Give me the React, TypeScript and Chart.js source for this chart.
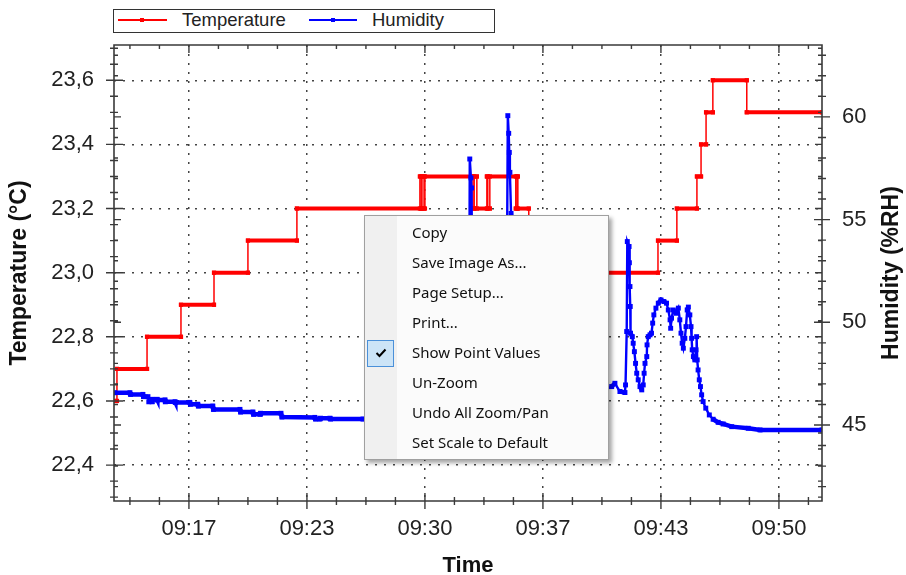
import React, { useEffect, useRef } from 'react';
import { Chart, registerables } from 'chart.js';

Chart.register(...registerables);

// ---- axis ranges (time = seconds after 09:00:00) ----
const TIME_MIN = 746;
const TIME_MAX = 3146;
const TEMP_MIN = 22.288;
const TEMP_MAX = 23.71;
const HUM_MIN = 41.3;
const HUM_MAX = 63.5;

// ---- tick values / labels ----
const timeTickValues = [1000, 1400, 1800, 2200, 2600, 3000];
const timeTickLabels = ['09:17', '09:23', '09:30', '09:37', '09:43', '09:50'];
const tempTickValues = [22.4, 22.6, 22.8, 23.0, 23.2, 23.4, 23.6];
const tempTickLabels = ['22,4', '22,6', '22,8', '23,0', '23,2', '23,4', '23,6'];
const humTickValues = [45, 50, 55, 60];
const humTickLabels = ['45', '50', '55', '60'];

// ---- titles / legend / menu text ----
const seriesNames = ['Temperature', 'Humidity'];
const axisTitles = { x: 'Time', temp: 'Temperature (°C)', hum: 'Humidity (%RH)' };
const menuItems = [
  'Copy',
  'Save Image As...',
  'Page Setup...',
  'Print...',
  'Show Point Values',
  'Un-Zoom',
  'Undo All Zoom/Pan',
  'Set Scale to Default',
];
const checkedMenuItem = 'Show Point Values';

// ---- Temperature series (°C), step corners ----
const tempTimes = [
  752, 756, 756, 858, 858, 973, 973, 1085, 1085, 1200, 1200, 1366, 1366, 1783, 1783, 1787, 1787, 1790,
  1790, 1797, 1797, 1800, 1800, 1963, 1963, 1967, 1967, 1976, 1976, 2010, 2010, 2013, 2013, 2020, 2020,
  2108, 2108, 2112, 2112, 2115, 2115, 2152, 2152, 2280, 2280, 2590, 2590, 2654, 2654, 2722, 2722, 2736,
  2736, 2753, 2753, 2776, 2776, 2891, 2891, 3146,
];
const tempValues = [
  22.6, 22.6, 22.7, 22.7, 22.8, 22.8, 22.9, 22.9, 23.0, 23.0, 23.1, 23.1, 23.2, 23.2, 23.3, 23.3, 23.2, 23.2,
  23.3, 23.3, 23.2, 23.2, 23.3, 23.3, 23.2, 23.2, 23.3, 23.3, 23.2, 23.2, 23.3, 23.3, 23.2, 23.2, 23.3,
  23.3, 23.2, 23.2, 23.3, 23.3, 23.2, 23.2, 23.1, 23.1, 23.0, 23.0, 23.1, 23.1, 23.2, 23.2, 23.3, 23.3,
  23.4, 23.4, 23.5, 23.5, 23.6, 23.6, 23.5, 23.5,
];

// ---- Humidity series (%RH) ----
const humTimes = [
  748, 800, 802, 844, 846, 861, 864, 875, 876, 892, 893, 919, 920, 953, 954, 1003, 1005, 1030, 1032, 1081,
  1083, 1173, 1175, 1217, 1219, 1241, 1243, 1312, 1315, 1427, 1429, 1444, 1446, 1478, 1480, 1590, 1715,
  1949, 1952, 1956, 1958, 1963, 2071, 2075, 2081, 2084, 2086, 2088, 2092, 2095, 2190, 2325, 2393,
  2433, 2444, 2461, 2478, 2480, 2484, 2486, 2492, 2493, 2495, 2496, 2497, 2503, 2506, 2510, 2514, 2518,
  2523, 2529, 2535, 2540, 2543, 2546, 2552, 2553, 2557, 2563, 2568, 2572, 2576, 2583, 2591, 2600, 2610,
  2619, 2625, 2631, 2633, 2636, 2642, 2651, 2659, 2664, 2668, 2672, 2676, 2681, 2685, 2689, 2693, 2698,
  2702, 2704, 2706, 2710, 2715, 2719, 2721, 2723, 2726, 2730, 2734, 2738, 2743, 2752, 2764, 2777, 2794,
  2811, 2840, 2896, 2936, 3146,
];
const humValues = [
  46.57, 46.57, 46.49, 46.49, 46.38, 46.38, 46.13, 46.13, 46.25, 46.25, 46.22, 46.22, 46.13, 46.13, 46.1,
  46.1, 46.01, 46.01, 45.92, 45.92, 45.76, 45.76, 45.63, 45.63, 45.52, 45.52, 45.57, 45.57, 45.39, 45.37,
  45.29, 45.29, 45.33, 45.33, 45.29, 45.29, 45.25, 45.3, 57.95, 57.03, 56.54, 45.4, 45.4, 45.5, 60.06,
  59.2, 58.27, 57.3, 55.3, 45.6, 45.6, 46.2, 46.6,
  46.87, 47.03, 46.63, 46.58, 46.95, 49.55, 53.93, 53.69, 52.9, 51.74, 50.77, 49.47, 49.3, 48.98, 48.57,
  48.0, 47.52, 47.2, 46.87, 46.71, 46.95, 47.52, 48.0, 48.33, 48.9, 49.3, 49.39, 49.47, 49.96, 50.36,
  50.69, 50.93, 51.09, 51.01, 50.93, 50.6, 50.12, 49.71, 50.2, 50.6, 50.44, 50.69, 50.12, 49.47, 48.98,
  48.74, 49.22, 49.79, 50.6, 50.74, 50.36, 49.79, 49.22, 48.66, 48.33, 48.17, 48.66, 49.3, 48.17, 47.68,
  47.2, 46.87, 46.47, 46.14, 45.82, 45.49, 45.28, 45.13, 45.05, 44.92, 44.84, 44.76, 44.76,
];

const TEMP_COLOR = '#ff0000';
const HUM_COLOR = '#0000ff';
const AXIS_COLOR = '#3a3a3a';
const FONT = '"Liberation Sans", Arial, sans-serif';

const framePlugin = {
  id: 'frameTicks',
  afterDatasetsDraw(chart: any) {
    const { ctx, chartArea: a, scales } = chart;
    const xs = scales.x;
    const yl = scales.y;
    const yr = scales.y1;
    ctx.save();
    ctx.strokeStyle = AXIS_COLOR;
    ctx.lineWidth = 1.6;
    ctx.beginPath();
    ctx.rect(a.left, a.top, a.right - a.left, a.bottom - a.top);
    ctx.stroke();
    ctx.lineWidth = 1.4;
    ctx.beginPath();
    const seg = (x1: number, y1: number, x2: number, y2: number) => {
      ctx.moveTo(x1, y1);
      ctx.lineTo(x2, y2);
    };
    // time axis: minor every 100 s, major at tick values
    for (let v = 800; v < TIME_MAX; v += 100) {
      const px = xs.getPixelForValue(v);
      const major = timeTickValues.includes(v);
      const len = major ? 8 : 4;
      seg(px, a.bottom - len, px, a.bottom + len);
      seg(px, a.top, px, a.top + len);
    }
    // temperature axis: minor every 0.05
    for (let k = 0; k <= 28; k++) {
      const v = 22.3 + k * 0.05;
      const py = yl.getPixelForValue(v);
      const major = k % 4 === 2;
      seg(a.left - (major ? 8 : 4), py, a.left + (major ? 9 : 4), py);
      seg(a.right - (major ? 7 : 4), py, a.right, py);
    }
    // humidity axis: minor every 1
    for (let v = 42; v <= 63; v++) {
      const py = yr.getPixelForValue(v);
      const major = v % 5 === 0;
      seg(a.right - (major ? 8 : 4), py, a.right + (major ? 8 : 4), py);
      seg(a.left, py, a.left + (major ? 7 : 4), py);
    }
    ctx.stroke();
    // right axis title, reading bottom-to-top
    ctx.translate(892, (a.top + a.bottom) / 2);
    ctx.rotate(-Math.PI / 2);
    ctx.font = `bold 23px ${FONT}`;
    ctx.fillStyle = '#111';
    ctx.textAlign = 'center';
    ctx.textBaseline = 'middle';
    ctx.fillText(axisTitles.hum, 0, 0);
    ctx.restore();
  },
};

export default function App() {
  const ref = useRef<HTMLCanvasElement>(null);

  useEffect(() => {
    Chart.defaults.font.family = FONT;
    const tempData = tempTimes.map((t, i) => ({ x: t, y: tempValues[i] }));
    const humData = humTimes.map((t, i) => ({ x: t, y: humValues[i] }));
    const tickFont = { size: 22 };
    const chart = new Chart(ref.current as HTMLCanvasElement, {
      type: 'line',
      data: {
        datasets: [
          {
            label: seriesNames[1],
            data: humData,
            yAxisID: 'y1',
            borderColor: HUM_COLOR,
            backgroundColor: HUM_COLOR,
            borderWidth: 2.4,
            pointStyle: 'rect',
            pointRadius: 3.5,
            pointBorderWidth: 0,
            pointBackgroundColor: HUM_COLOR,
            tension: 0,
            segment: {
              borderWidth: (c: any) => (Math.abs(c.p0.y - c.p1.y) < 4 ? 4.5 : 2.4),
            },
          },
          {
            label: seriesNames[0],
            data: tempData,
            yAxisID: 'y',
            borderColor: TEMP_COLOR,
            backgroundColor: TEMP_COLOR,
            borderWidth: 1.5,
            borderCapStyle: 'square',
            pointStyle: 'rect',
            pointRadius: 3,
            pointBorderWidth: 0,
            pointBackgroundColor: TEMP_COLOR,
            tension: 0,
            segment: {
              borderWidth: (c: any) => (Math.abs(c.p0.y - c.p1.y) < 0.5 ? 4 : 1.5),
            },
          },
        ],
      },
      options: {
        responsive: false,
        animation: false,
        events: [],
        layout: { padding: { left: 3, top: 45, right: 0, bottom: 0 } },
        plugins: { legend: { display: false }, tooltip: { enabled: false } },
        scales: {
          x: {
            type: 'linear',
            min: TIME_MIN,
            max: TIME_MAX,
            afterBuildTicks: (s: any) => {
              s.ticks = timeTickValues.map((v) => ({ value: v }));
            },
            afterFit: (s: any) => {
              s.height = 74;
            },
            ticks: {
              autoSkip: false,
              maxRotation: 0,
              padding: 15,
              color: '#222',
              font: tickFont,
              callback: (_v: any, i: number) => timeTickLabels[i],
            },
            grid: { color: '#444', lineWidth: 1.5, drawTicks: false },
            border: { display: false, dash: [2, 7] },
            title: {
              display: true,
              text: axisTitles.x,
              color: '#111',
              font: { size: 22, weight: 'bold', lineHeight: 0.85 },
              padding: { top: 0, bottom: 0 },
            },
          },
          y: {
            type: 'linear',
            position: 'left',
            min: TEMP_MIN,
            max: TEMP_MAX,
            afterBuildTicks: (s: any) => {
              s.ticks = tempTickValues.map((v) => ({ value: v }));
            },
            afterFit: (s: any) => {
              s.width = 111;
            },
            ticks: {
              autoSkip: false,
              padding: 20,
              color: '#222',
              font: tickFont,
              callback: (_v: any, i: number) => tempTickLabels[i],
            },
            grid: { color: '#444', lineWidth: 1.5, drawTicks: false },
            border: { display: false, dash: [2, 7] },
            title: {
              display: true,
              text: axisTitles.temp,
              color: '#111',
              font: { size: 23, weight: 'bold' },
              padding: { top: 3, bottom: 4 },
            },
          },
          y1: {
            type: 'linear',
            position: 'right',
            min: HUM_MIN,
            max: HUM_MAX,
            afterBuildTicks: (s: any) => {
              s.ticks = humTickValues.map((v) => ({ value: v }));
            },
            afterFit: (s: any) => {
              s.width = 84;
            },
            ticks: {
              autoSkip: false,
              padding: 20,
              color: '#222',
              font: tickFont,
              callback: (_v: any, i: number) => humTickLabels[i],
            },
            grid: { display: false, drawTicks: false },
            border: { display: false },
          },
        },
      } as any,
      plugins: [framePlugin],
    });
    return () => chart.destroy();
  }, []);

  const legendText: React.CSSProperties = {
    position: 'absolute',
    top: 10,
    font: `18.5px ${FONT}`,
    lineHeight: '20px',
    color: '#222',
    whiteSpace: 'nowrap',
  };

  return (
    <div
      style={{
        position: 'absolute',
        left: 0,
        top: 0,
        width: 906,
        height: 575,
        background: '#fff',
        overflow: 'hidden',
      }}
    >
      <canvas
        ref={ref}
        width={906}
        height={575}
        style={{ position: 'absolute', left: 0, top: 0, width: 906, height: 575 }}
      />
      {/* legend */}
      <div
        style={{
          position: 'absolute',
          left: 113,
          top: 9,
          width: 382,
          height: 24,
          border: '1.5px solid #333',
          boxSizing: 'border-box',
          background: '#fff',
        }}
      />
      <div style={{ position: 'absolute', left: 118, top: 19, width: 49, height: 2, background: TEMP_COLOR }} />
      <div style={{ position: 'absolute', left: 140, top: 18, width: 4, height: 4, background: TEMP_COLOR }} />
      <div style={{ ...legendText, left: 182 }}>{seriesNames[0]}</div>
      <div style={{ position: 'absolute', left: 309, top: 19, width: 48, height: 2, background: HUM_COLOR }} />
      <div style={{ position: 'absolute', left: 331, top: 18, width: 4, height: 4, background: HUM_COLOR }} />
      <div style={{ ...legendText, left: 372 }}>{seriesNames[1]}</div>

      {/* context menu */}
      <div
        style={{
          position: 'absolute',
          left: 364,
          top: 215,
          width: 245,
          height: 245,
          border: '1px solid #a0a0a0',
          boxSizing: 'border-box',
          background: '#fbfbfb',
          boxShadow: '3px 3px 4px rgba(0,0,0,0.35)',
        }}
      >
        <div style={{ position: 'absolute', left: 0, top: 0, width: 32, height: 243, background: '#f0f0f0' }} />
        {menuItems.map((item, i) => (
          <div
            key={item}
            style={{
              position: 'absolute',
              left: 47,
              top: 6 + i * 30,
              height: 30,
              lineHeight: '30px',
              font: `15px "Noto Sans", sans-serif`,
              color: '#111',
              whiteSpace: 'nowrap',
            }}
          >
            {item}
          </div>
        ))}
        {menuItems.map((item, i) =>
          item === checkedMenuItem ? (
            <div
              key={'chk' + i}
              style={{
                position: 'absolute',
                left: 2,
                top: 2 + i * 30 + 2,
                width: 27,
                height: 27,
                boxSizing: 'border-box',
                background: '#cce4f7',
                border: '1px solid #4a90d9',
              }}
            >
              <svg width={25} height={25} style={{ position: 'absolute', left: 0, top: 0 }}>
                <path d="M8.5 12 L11.5 15 L17.5 8.5" stroke="#000" strokeWidth={2} fill="none" />
              </svg>
            </div>
          ) : null,
        )}
      </div>
    </div>
  );
}
